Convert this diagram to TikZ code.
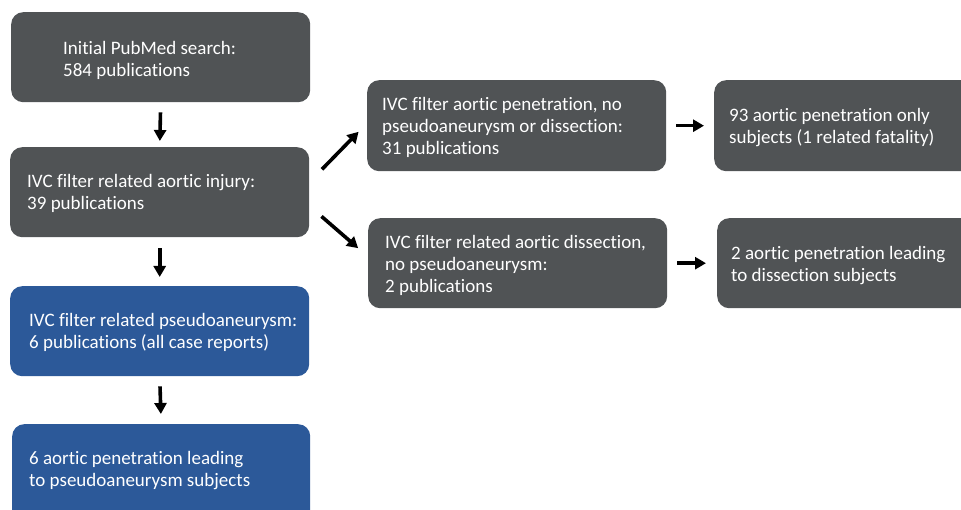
\documentclass[tikz,border=0pt]{standalone}
\usepackage{fontspec}
\setmainfont{Carlito}[Ligatures=NoCommon]
\usetikzlibrary{arrows.meta}
\definecolor{boxgray}{RGB}{80,83,85}
\definecolor{boxblue}{RGB}{44,89,153}
\begin{document}
\begin{tikzpicture}[x=1pt,y=-1pt,
  box/.style={fill=#1, draw=none, rounded corners=12pt, anchor=north west, inner sep=0pt},
  txt/.style={anchor=west, align=left, inner sep=0pt, text=white, font=\fontsize{19}{22}\selectfont},
  arr/.style={line width=3.6pt, -{Triangle[length=11pt,width=12pt]}}]
\useasboundingbox (0,0) rectangle (961,510);
\clip (0,0) rectangle (961,510);
% left column
\node[box=boxgray, minimum width=299pt, minimum height=90pt] (b1) at (11,12) {};
\node[box=boxgray, minimum width=299pt, minimum height=90pt] (b2) at (10,147) {};
\node[box=boxblue, minimum width=299pt, minimum height=90pt] (b3) at (10,286) {};
\node[box=boxblue, minimum width=298pt, minimum height=100pt] (b4) at (12,424) {};
% right columns
\node[box=boxgray, minimum width=299pt, minimum height=91pt] (b5) at (367,80) {};
\node[box=boxgray, minimum width=299pt, minimum height=90pt] (b6) at (368,218) {};
\node[box=boxgray, minimum width=262pt, minimum height=91pt] (b7) at (714,80) {};
\node[box=boxgray, minimum width=260pt, minimum height=90pt] (b8) at (717,218) {};
% texts
\node[txt] (t1) at ([xshift=52pt,yshift=-3pt]b1.west) {Initial PubMed search:\\584 publications};
\node[txt] (t2) at ([xshift=17pt,yshift=-1pt]b2.west) {IVC filter related aortic injury:\\39 publications};
\node[txt] (t3) at ([xshift=19pt,yshift=-1pt]b3.west) {IVC filter related pseudoaneurysm:\\6 publications (all case reports)};
\node[txt] (t4) at ([xshift=17pt,yshift=4pt]b4.west) {6 aortic penetration leading\\to pseudoaneurysm subjects};
\node[txt] (t5) at ([xshift=15pt,yshift=-2pt]b5.west) {IVC filter aortic penetration, no\\pseudoaneurysm or dissection:\\31 publications};
\node[txt] (t6) at ([xshift=17pt,yshift=-2pt]b6.west) {IVC filter related aortic dissection,\\no pseudoaneurysm:\\2 publications};
\node[txt] (t7) at ([xshift=15pt,yshift=-2pt]b7.west) {93 aortic penetration only\\subjects (1 related fatality)};
\node[txt] (t8) at ([xshift=14pt,yshift=-2pt]b8.west) {2 aortic penetration leading\\to dissection subjects};
% connectors
\draw[arr, shorten <=10pt, shorten >=6pt] (b1.south) -- (b2.north);
\draw[arr, shorten <=11pt, shorten >=9pt] (b2.south) -- (b3.north);
\draw[arr, shorten <=10pt, shorten >=10pt] (b3.south) -- (b4.north);
\draw[arr, shorten <=18pt, shorten >=12pt] ([yshift=10pt]b2.east) -- ([yshift=2.5pt]b5.west);
\draw[arr, shorten <=16pt, shorten >=13pt] ([yshift=-13.7pt]b2.east) -- ([yshift=6.5pt]b6.west);
\draw[arr, shorten <=10pt, shorten >=10pt] (b5.east) -- (b7.west);
\draw[arr, shorten <=10pt, shorten >=11pt] (b6.east) -- (b8.west);
\end{tikzpicture}
\end{document}
